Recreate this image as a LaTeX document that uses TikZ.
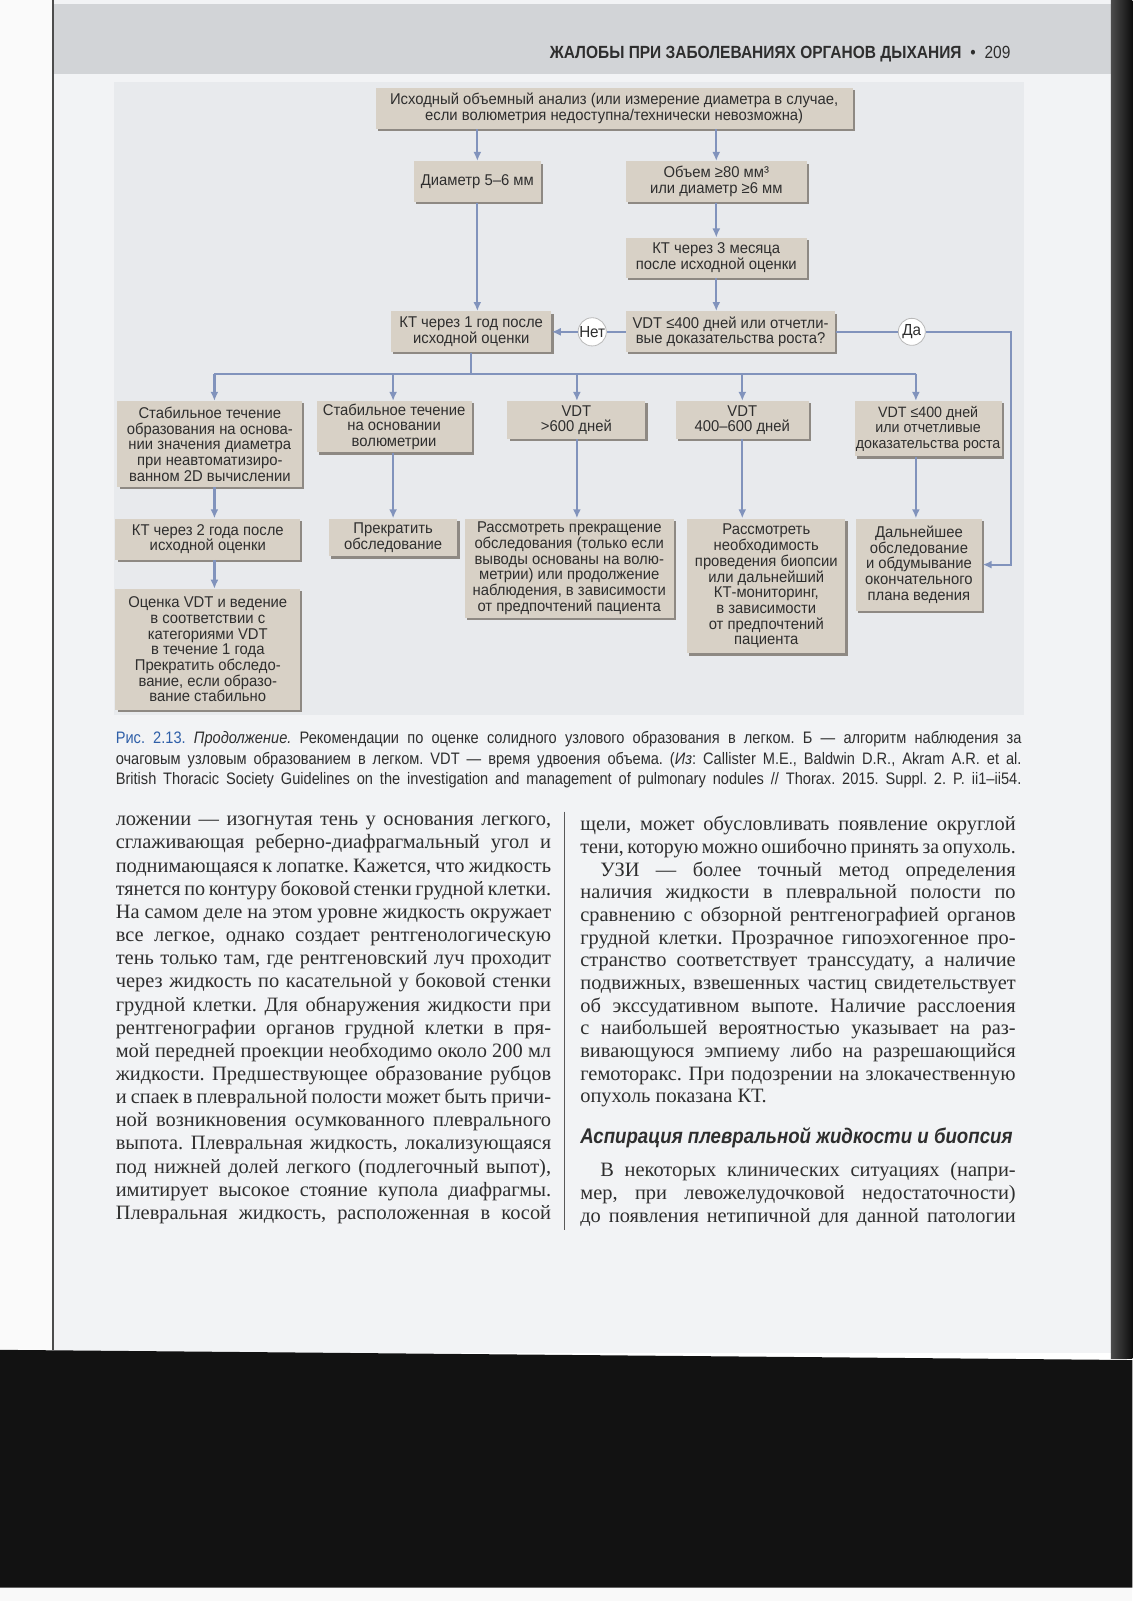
\documentclass[tikz,border=0pt]{standalone}
\usepackage{graphicx}
\usepackage{fontspec}
\setmainfont{Liberation Serif}
\newfontfamily\cond[FakeStretch=0.88]{Liberation Sans}
\newfontfamily\boxsans[FakeStretch=0.95]{Liberation Sans}
\usetikzlibrary{arrows.meta,shadows}
\definecolor{boxfill}{HTML}{D8D1C6}
\definecolor{shadowc}{HTML}{8E8983}
\definecolor{arrowc}{HTML}{8193BC}
\definecolor{figbg}{HTML}{E8EAED}
\definecolor{pagebg}{HTML}{F2F3F5}
\definecolor{headbg}{HTML}{D2D4D7}
\definecolor{capblue}{HTML}{2F5FA8}
\definecolor{textc}{HTML}{2E2E2E}
\frenchspacing
\newlength\colw
\setlength\colw{217.6pt}
\newcommand\jl[1]{\makebox[\colw][s]{#1}}
\newcommand\jlt[1]{\resizebox{\colw}{\height}{\spaceskip=0.18em\relax #1}}
\newlength\capw
\setlength\capw{452.7pt}
\newcommand\cl[1]{\makebox[\capw][s]{#1}}
\tikzset{
  bx/.style 2 args={minimum width=#1*0.51035pt, minimum height=#2*0.51035pt},
  flowbox/.style={fill=boxfill, draw=none, inner sep=0pt, align=center, text=textc,
    font=\boxsans\fontsize{7.8}{7.85}\selectfont,
    drop shadow={shadow xshift=1.1pt, shadow yshift=-1.1pt, fill=shadowc, opacity=1}},
  conn/.style={draw=arrowc, line width=1.1pt},
  arr/.style={conn, -{Latex[length=4.5pt,width=4pt]}},
  yesno/.style={circle, draw=gray!55, fill=white, inner sep=0pt, minimum size=13.5pt,
    font=\boxsans\fontsize{8}{8}\selectfont, text=textc},
  bodytext/.style={inner sep=0pt, align=left, text=textc, font=\fontsize{10.2}{11.5}\selectfont}
}
\begin{document}
\begin{tikzpicture}[x=0.51035pt, y=-0.51035pt]
\useasboundingbox (0,0) rectangle (1109,1568);
% page and surroundings
\fill[white!96!gray] (0,0) rectangle (52,1325);
\fill[pagebg] (52,0) rectangle (1090,1325);
\fill[headbg] (52,4) rectangle (1090,72);
\shade[left color=black!70, right color=black!95] (1088,0) rectangle (1109,1330);
\fill[black!93] (0,1322) -- (1109,1332) -- (1109,1555) -- (0,1555) -- cycle;
\fill[white!95!gray] (0,1555) rectangle (1109,1568);
\draw[black!70, line width=1pt] (52,0) -- (52,1322);
% header
\node[anchor=base east, inner sep=0pt, text=textc, font=\cond\fontsize{8.8}{10}\selectfont] (head) at (990,57)
  {{\bfseries ЖАЛОБЫ ПРИ ЗАБОЛЕВАНИЯХ ОРГАНОВ ДЫХАНИЯ}\enspace•\enspace 209};
% figure background
\fill[figbg] (112,80) rectangle (1003,700);
% flowchart nodes
\node[flowbox, bx={467}{40}] (top) at (601.5,106) {Исходный объемный анализ (или измерение диаметра в случае,\\если волюметрия недоступна/технически невозможна)};
\node[flowbox, bx={125}{40}] (d56) at (467.5,178) {Диаметр 5–6 мм};
\node[flowbox, bx={177}{40}] (vol) at (701.5,178) {Объем ≥80 мм³\\или диаметр ≥6 мм};
\node[flowbox, bx={177}{39}] (kt3) at (701.5,252.5) {КТ через 3 месяца\\после исходной оценки};
\node[flowbox, bx={205}{40}] (vdtq) at (715.5,325) {VDT ≤400 дней или отчетли-\\вые доказательства роста?};
\node[flowbox, bx={157}{40}] (kt1) at (461.5,325) {КТ через 1 год после\\исходной оценки};
\node[yesno] (net) at (580,325) {Нет};
\node[yesno] (da) at (893,325) {Да};
% row 2
\node[flowbox, bx={181}{84}] (a2) at (205.5,435) {Стабильное течение\\образования на основа-\\нии значения диаметра\\при неавтоматизиро-\\ванном 2D вычислении};
\node[flowbox, bx={152}{50}] (b2) at (386,418) {Стабильное течение\\на основании\\волюметрии};
\node[flowbox, bx={135}{37}] (c2) at (564.5,411.5) {VDT\\>600 дней};
\node[flowbox, bx={130}{37}] (d2) at (727,411.5) {VDT\\400–600 дней};
\node[flowbox, bx={144}{54}, font=\boxsans\fontsize{7.5}{7.85}\selectfont] (e2) at (909,420) {VDT ≤400 дней\\или отчетливые\\доказательства роста};
% row 3
\node[flowbox, bx={181}{40}] (a3) at (203.5,528) {КТ через 2 года после\\исходной оценки};
\node[flowbox, bx={126}{37}] (b3) at (385,526.5) {Прекратить\\обследование};
\node[flowbox, bx={205}{97}] (c3) at (557.5,556.5) {Рассмотреть прекращение\\обследования (только если\\выводы основаны на волю-\\метрии) или продолжение\\наблюдения, в зависимости\\от предпочтений пациента};
\node[flowbox, bx={155}{132}] (d3) at (750.5,574) {Рассмотреть\\необходимость\\проведения биопсии\\или дальнейший\\КТ-мониторинг,\\в зависимости\\от предпочтений\\пациента};
\node[flowbox, bx={124}{90}] (e3) at (900,553) {Дальнейшее\\обследование\\и обдумывание\\окончательного\\плана ведения};
\node[flowbox, bx={181}{118}] (a4) at (203.5,636) {Оценка VDT и ведение\\в соответствии с\\категориями VDT\\в течение 1 года\\Прекратить обследо-\\вание, если образо-\\вание стабильно};
% connectors
\draw[arr] (top.south -| d56) -- (d56.north);
\draw[arr] (top.south -| vol) -- (vol.north);
\draw[arr] (vol.south) -- (kt3.north);
\draw[arr] (kt3.south) -- (kt3.south |- vdtq.north);
\draw[arr] (d56.south) -- (d56.south |- kt1.north);
\draw[conn] (vdtq.west) -- (net.east);
\draw[arr] (net.west) -- (kt1.east);
\coordinate (daR) at (990,325);
\draw[conn] (vdtq.east) -- (da.west);
\draw[arr] (da.east) -- (daR) |- (e3.east);
\coordinate (ca) at (210,366);
\coordinate (cb) at (385,366);
\coordinate (cc) at (565,366);
\coordinate (cd) at (727,366);
\coordinate (ce) at (897,366);
\draw[conn] (kt1.south) -- (kt1.south |- ca);
\draw[conn] (ca) -- (ce);
\foreach \c/\n in {ca/a2, cb/b2, cc/c2, cd/d2, ce/e2}{
  \draw[arr] (\c) -- (\c |- \n.north);
}
\draw[arr] (ca |- a2.south) -- (ca |- a3.north);
\draw[arr] (cb |- b2.south) -- (cb |- b3.north);
\draw[arr] (cc |- c2.south) -- (cc |- c3.north);
\draw[arr] (cd |- d2.south) -- (cd |- d3.north);
\draw[arr] (ce |- e2.south) -- (ce |- e3.north);
\draw[arr] (ca |- a3.south) -- (ca |- a4.north);
% caption
\node[anchor=north west, inner sep=0pt, align=left, text=textc, font=\cond\fontsize{8.3}{10.2}\selectfont] (cap) at (113,716)
 {\cl{{\color{capblue}Рис. 2.13.} \textit{Продолжение.} Рекомендации по оценке солидного узлового образования в легком. Б — алгоритм наблюдения за}\\
  \cl{очаговым узловым образованием в легком. VDT — время удвоения объема. (\textit{Из}: Callister M.E., Baldwin D.R., Akram A.R. et al.}\\
  \cl{British Thoracic Society Guidelines on the investigation and management of pulmonary nodules // Thorax. 2015. Suppl. 2. P. ii1–ii54.}};
% body text, left column
\node[bodytext, anchor=north west, font=\fontsize{10.2}{11.57}\selectfont] (lcol) at (113,799)
 {\jl{ложении — изогнутая тень у основания легкого,}\\
  \jl{сглаживающая реберно-диафрагмальный угол и}\\
  \jl{поднимающаяся к лопатке. Кажется, что жидкость}\\
  \jlt{тянется по контуру боковой стенки грудной клетки.}\\
  \jl{На самом деле на этом уровне жидкость окружает}\\
  \jl{все легкое, однако создает рентгенологическую}\\
  \jl{тень только там, где рентгеновский луч проходит}\\
  \jl{через жидкость по касательной у боковой стенки}\\
  \jl{грудной клетки. Для обнаружения жидкости при}\\
  \jl{рентгенографии органов грудной клетки в пря-}\\
  \jl{мой передней проекции необходимо около 200 мл}\\
  \jl{жидкости. Предшествующее образование рубцов}\\
  \jl{и спаек в плевральной полости может быть причи-}\\
  \jl{ной возникновения осумкованного плеврального}\\
  \jl{выпота. Плевральная жидкость, локализующаяся}\\
  \jl{под нижней долей легкого (подлегочный выпот),}\\
  \jl{имитирует высокое стояние купола диафрагмы.}\\
  \jl{Плевральная жидкость, расположенная в косой}};
\draw[black!65, line width=0.6pt] (553,795) -- (553,1205);
% body text, right column
\node[bodytext, anchor=north west, font=\fontsize{10.2}{11.33}\selectfont] (rcol) at (568,799)
 {\jl{щели, может обусловливать появление округлой}\\
  \jlt{тени, которую можно ошибочно принять за опухоль.}\\
  \jl{\hspace*{10pt}УЗИ — более точный метод определения}\\
  \jl{наличия жидкости в плевральной полости по}\\
  \jl{сравнению с обзорной рентгенографией органов}\\
  \jl{грудной клетки. Прозрачное гипоэхогенное про-}\\
  \jl{странство соответствует транссудату, а наличие}\\
  \jl{подвижных, взвешенных частиц свидетельствует}\\
  \jl{об экссудативном выпоте. Наличие расслоения}\\
  \jl{с наибольшей вероятностью указывает на раз-}\\
  \jl{вивающуюся эмпиему либо на разрешающийся}\\
  \jl{гемоторакс. При подозрении на злокачественную}\\
  опухоль показана КТ.};
\node[anchor=base west, inner sep=0pt, text=textc, font=\cond\fontsize{10.6}{12}\selectfont\bfseries\itshape] (sect) at (568,1120)
 {Аспирация плевральной жидкости и биопсия};
\node[bodytext, anchor=north west] (rcol2) at (568,1138)
 {\jl{\hspace*{10pt}В некоторых клинических ситуациях (напри-}\\
  \jl{мер, при левожелудочковой недостаточности)}\\
  \jl{до появления нетипичной для данной патологии}};
\end{tikzpicture}
\end{document}
